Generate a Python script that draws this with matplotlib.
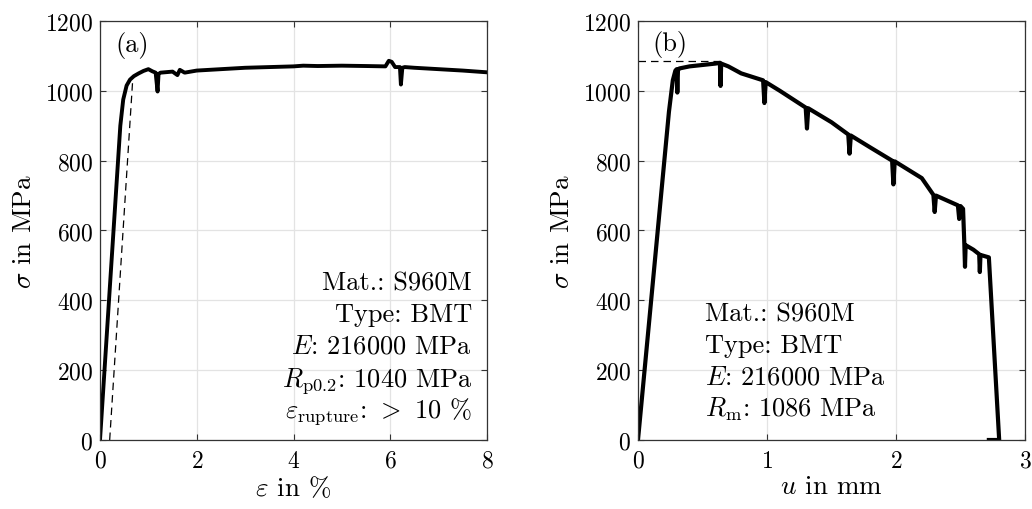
import matplotlib
matplotlib.use("Agg")
import matplotlib.pyplot as plt

# ---------------------------------------------------------------
# data (stress in MPa)
# ---------------------------------------------------------------
eps_a = [0, 0.20, 0.42, 0.48, 0.55, 0.62, 0.70, 0.80, 0.90, 1.00, 1.08,
         1.15, 1.19, 1.21, 1.25, 1.50, 1.60, 1.65, 1.75, 2.00, 2.50, 3.00,
         3.50, 4.00, 4.20, 4.50, 5.00, 5.50, 5.90, 5.97, 6.03, 6.10, 6.20,
         6.22, 6.25, 6.30, 6.50, 7.00, 7.50, 8.00]
sig_a = [0, 430, 900, 975, 1015, 1032, 1042, 1050, 1057, 1062, 1056,
         1052, 998, 1048, 1052, 1055, 1045, 1060, 1052, 1058, 1062, 1066,
         1068, 1070, 1072, 1071, 1072, 1071, 1070, 1086, 1083, 1068, 1068,
         1018, 1066, 1068, 1066, 1062, 1058, 1053]
# 0.2 % offset line
offset_eps = [0.20, 0.68]
offset_sig = [0, 1040]

u_b = [0, 0.24, 0.27, 0.29, 0.30, 0.305, 0.31, 0.32, 0.40, 0.50, 0.60,
       0.635, 0.64, 0.645, 0.70, 0.80, 0.97, 0.98, 0.99, 1.10, 1.30, 1.31,
       1.32, 1.50, 1.63, 1.64, 1.65, 1.80, 1.97, 1.98, 1.99, 2.20, 2.29,
       2.30, 2.31, 2.48, 2.49, 2.50, 2.52, 2.53, 2.535, 2.54, 2.60, 2.645,
       2.65, 2.655, 2.72, 2.80, 2.79, 2.72]
sig_b = [0, 940, 1030, 1058, 1062, 995, 1060, 1064, 1070, 1074, 1078,
         1080, 1014, 1078, 1070, 1050, 1030, 965, 1025, 1000, 952, 892,
         950, 910, 875, 820, 872, 838, 800, 732, 798, 750, 702,
         653, 700, 672, 633, 670, 662, 560, 496, 558, 545, 532,
         481, 530, 523, 0, 0, 0]
# R_m line
rm_u = [0, 0.65]
rm_sig = [1086, 1086]

text_a = ["Mat.: S960M", "Type: BMT", "$E$: 216000 MPa",
          r"$R_{\mathrm{p0.2}}$: 1040 MPa",
          r"$\varepsilon_{\mathrm{rupture}}$: $>$ 10 %"]
text_b = ["Mat.: S960M", "Type: BMT", "$E$: 216000 MPa",
          r"$R_{\mathrm{m}}$: 1086 MPa"]

# ---------------------------------------------------------------
# style
# ---------------------------------------------------------------
plt.rcParams["font.family"] = "serif"
plt.rcParams["font.serif"] = ["cmr10"]
plt.rcParams["mathtext.fontset"] = "cm"
plt.rcParams["axes.formatter.use_mathtext"] = True

TICK_FS = 17
LABEL_FS = 19.5
TEXT_FS = 19

fig = plt.figure(figsize=(10.32, 5.10), dpi=100)
ax1 = fig.add_axes([0.0969, 0.1353, 0.375, 0.8216])
ax2 = fig.add_axes([0.6182, 0.1353, 0.375, 0.8216])

def style(ax):
    ax.grid(True, color="#e3e3e3", linewidth=0.9)
    ax.set_axisbelow(True)
    ax.tick_params(direction="in", top=True, right=True, length=4,
                   labelsize=TICK_FS, color="#333333")
    ax.tick_params(axis="x", pad=7)
    ax.tick_params(axis="y", pad=5)
    for s in ax.spines.values():
        s.set_color("#333333")
        s.set_linewidth(0.9)

# Panel (a)
ax1.plot(offset_eps, offset_sig, color="black", lw=0.9, ls=(0, (6, 4)))
ax1.plot(eps_a, sig_a, color="black", lw=2.8, solid_joinstyle="round")
ax1.set_xlim(0, 8)
ax1.set_ylim(0, 1200)
ax1.set_xticks([0, 2, 4, 6, 8])
ax1.set_yticks(range(0, 1201, 200))
ax1.set_xlabel(r"$\varepsilon$ in %", fontsize=LABEL_FS, labelpad=2)
ax1.set_ylabel(r"$\sigma$ in MPa", fontsize=LABEL_FS, labelpad=6)
ax1.text(0.041, 0.929, "(a)", transform=ax1.transAxes, fontsize=TEXT_FS,
         va="baseline", ha="left")
a_base = [0.360, 0.284, 0.210, 0.130, 0.055]
for t, yb in zip(text_a, a_base):
    ax1.text(0.961, yb, t, transform=ax1.transAxes,
             fontsize=TEXT_FS, ha="right", va="baseline")
style(ax1)

# Panel (b)
ax2.plot(rm_u, rm_sig, color="black", lw=0.9, ls=(0, (6, 4)))
ax2.plot(u_b, sig_b, color="black", lw=3.0, solid_joinstyle="round")
ax2.set_xlim(0, 3)
ax2.set_ylim(0, 1200)
ax2.set_xticks([0, 1, 2, 3])
ax2.set_yticks(range(0, 1201, 200))
ax2.set_xlabel(r"$u$ in mm", fontsize=LABEL_FS, labelpad=2)
ax2.set_ylabel(r"$\sigma$ in MPa", fontsize=LABEL_FS, labelpad=6)
ax2.text(0.038, 0.931, "(b)", transform=ax2.transAxes, fontsize=TEXT_FS,
         va="baseline", ha="left")
b_base = [0.285, 0.210, 0.134, 0.058]
for t, yb in zip(text_b, b_base):
    ax2.text(0.173, yb, t, transform=ax2.transAxes,
             fontsize=TEXT_FS, ha="left", va="baseline")
style(ax2)

fig.savefig("out.png", dpi=100)
